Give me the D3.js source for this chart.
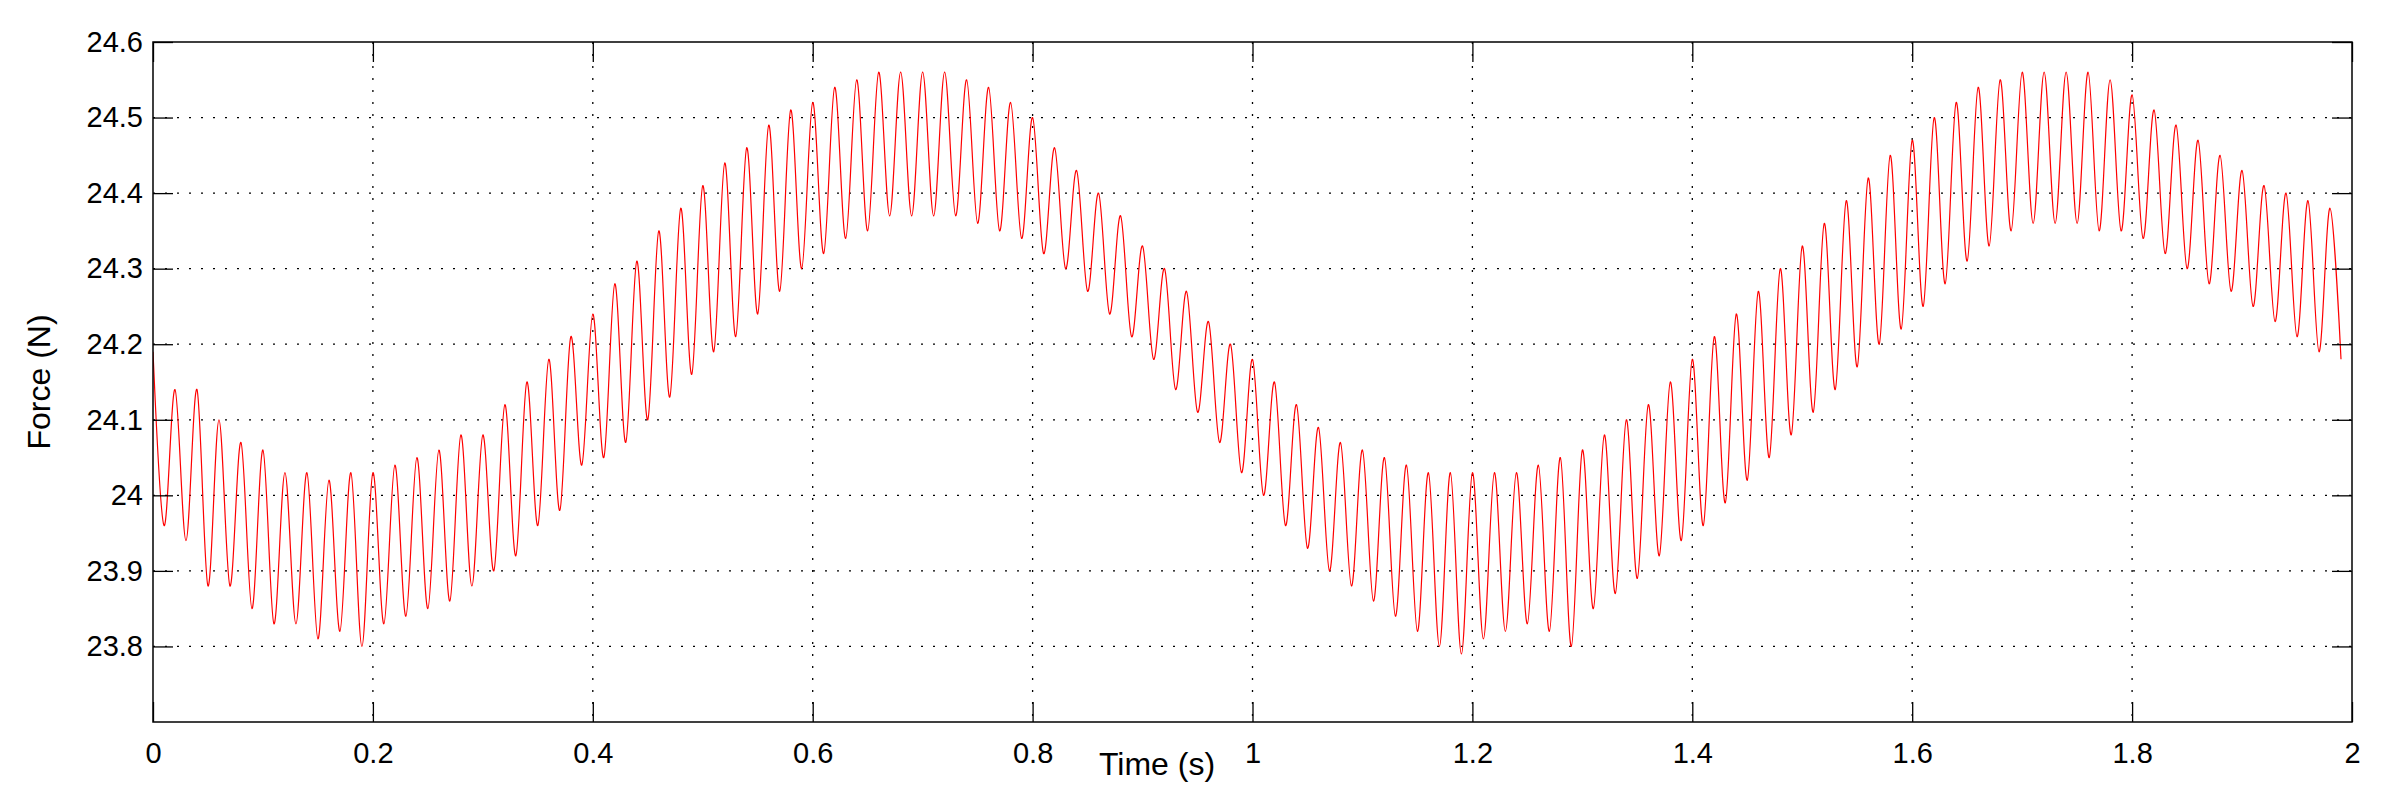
<!DOCTYPE html>
<html><head><meta charset="utf-8">
<script src="https://cdn.jsdelivr.net/npm/d3@7"></script>
<style>body{margin:0;background:#fff}svg{display:block;font-family:"Liberation Sans",Arial,sans-serif}</style>
</head><body>
<svg id="chart" width="2392" height="799"></svg>
<script>
// one peak and one trough per 0.02 s cycle
const period = 0.02
const peaks = [
  24.19,24.14,24.14,24.10,24.07, 24.06,24.03,24.03,24.02,24.03,
  24.03,24.04,24.05,24.06,24.08, 24.08,24.12,24.15,24.18,24.21,
  24.24,24.28,24.31,24.35,24.38, 24.41,24.44,24.46,24.49,24.51,
  24.52,24.54,24.55,24.56,24.56, 24.56,24.56,24.55,24.54,24.52,
  24.50,24.46,24.43,24.40,24.37, 24.33,24.30,24.27,24.23,24.20,
  24.18,24.15,24.12,24.09,24.07, 24.06,24.05,24.04,24.03,24.03,
  24.03,24.03,24.03,24.04,24.05, 24.06,24.08,24.10,24.12,24.15,
  24.18,24.21,24.24,24.27,24.30, 24.33,24.36,24.39,24.42,24.45,
  24.47,24.50,24.52,24.54,24.55, 24.56,24.56,24.56,24.56,24.55,
  24.53,24.51,24.49,24.47,24.45, 24.43,24.41,24.40,24.39,24.38]
const troughs = [
  23.96,23.94,23.88,23.88,23.85, 23.83,23.83,23.81,23.82,23.80,
  23.83,23.84,23.85,23.86,23.88, 23.90,23.92,23.96,23.98,24.04,
  24.05,24.07,24.10,24.13,24.16, 24.19,24.21,24.24,24.27,24.30,
  24.32,24.34,24.35,24.37,24.37, 24.37,24.37,24.36,24.35,24.34,
  24.32,24.30,24.27,24.24,24.21, 24.18,24.14,24.11,24.07,24.03,
  24.00,23.96,23.93,23.90,23.88, 23.86,23.84,23.82,23.80,23.79,
  23.81,23.82,23.83,23.82,23.80, 23.85,23.87,23.89,23.92,23.94,
  23.96,23.99,24.02,24.05,24.08, 24.11,24.14,24.17,24.20,24.22,
  24.25,24.28,24.31,24.33,24.35, 24.36,24.36,24.36,24.35,24.35,
  24.34,24.32,24.30,24.28,24.27, 24.25,24.23,24.21,24.19,24.18]
const xTicks = [0,0.2,0.4,0.6,0.8,1,1.2,1.4,1.6,1.8,2]
const yTicks = [23.8,23.9,24,24.1,24.2,24.3,24.4,24.5,24.6]

const series = []
peaks.forEach((p,i) => {
  series.push({t: i*period, f: p})
  series.push({t: i*period + period/2, f: troughs[i]})
})

const m = {left:153, right:2352, top:42, bottom:722}
const svg = d3.select("#chart")
const x = d3.scaleLinear().domain([0,2]).range([m.left,m.right])
const y = d3.scaleLinear().domain([23.7,24.6]).range([m.bottom,m.top])

// grid
const grid = svg.append("g").attr("stroke","#000").attr("stroke-width",1.3).attr("stroke-dasharray","2,10")
grid.selectAll(".gx").data(xTicks.slice(1,-1)).enter().append("line")
  .attr("x1",d=>x(d)).attr("x2",d=>x(d)).attr("y1",m.top).attr("y2",m.bottom)
grid.selectAll(".gy").data(yTicks.slice(0,-1)).enter().append("line")
  .attr("y1",d=>y(d)).attr("y2",d=>y(d)).attr("x1",m.left).attr("x2",m.right)

svg.append("defs").append("clipPath").attr("id","clip").append("rect")
  .attr("x",m.left).attr("y",m.top).attr("width",m.right-m.left).attr("height",m.bottom-m.top)

const line = d3.line().x(d=>x(d.t)).y(d=>y(d.f)).curve(d3.curveCardinal)
svg.append("path").datum(series).attr("clip-path","url(#clip)")
  .attr("fill","none").attr("stroke","#ff0000").attr("stroke-width",1.2).attr("d",line)

const fmt = d => String(+d.toFixed(1))
const fs = 29
svg.append("g").attr("transform",`translate(0,${m.bottom})`)
  .call(d3.axisBottom(x).tickValues(xTicks).tickFormat(fmt).tickSizeInner(-20).tickSizeOuter(0).tickPadding(20))
svg.append("g").attr("transform",`translate(0,${m.top})`)
  .call(d3.axisTop(x).tickValues(xTicks).tickFormat("").tickSizeInner(-20).tickSizeOuter(0))
svg.append("g").attr("transform",`translate(${m.left},0)`)
  .call(d3.axisLeft(y).tickValues(yTicks).tickFormat(fmt).tickSizeInner(-20).tickSizeOuter(0).tickPadding(10))
svg.append("g").attr("transform",`translate(${m.right},0)`)
  .call(d3.axisRight(y).tickValues(yTicks).tickFormat("").tickSizeInner(-20).tickSizeOuter(0))
svg.selectAll(".domain").remove()
svg.selectAll(".tick line").attr("stroke","#000").attr("stroke-width",1.3)
svg.selectAll(".tick text").attr("font-size",fs).attr("fill","#000").attr("font-family",null)

svg.append("rect").attr("x",m.left).attr("y",m.top).attr("width",m.right-m.left).attr("height",m.bottom-m.top)
  .attr("fill","none").attr("stroke","#000").attr("stroke-width",1.5)

svg.append("text").attr("x",1157).attr("y",775).attr("text-anchor","middle").attr("font-size",fs+3).text("Time (s)")
svg.append("text").attr("transform",`translate(50,${(m.top+m.bottom)/2}) rotate(-90)`)
  .attr("text-anchor","middle").attr("font-size",fs+3).text("Force (N)")
</script>
</body></html>
